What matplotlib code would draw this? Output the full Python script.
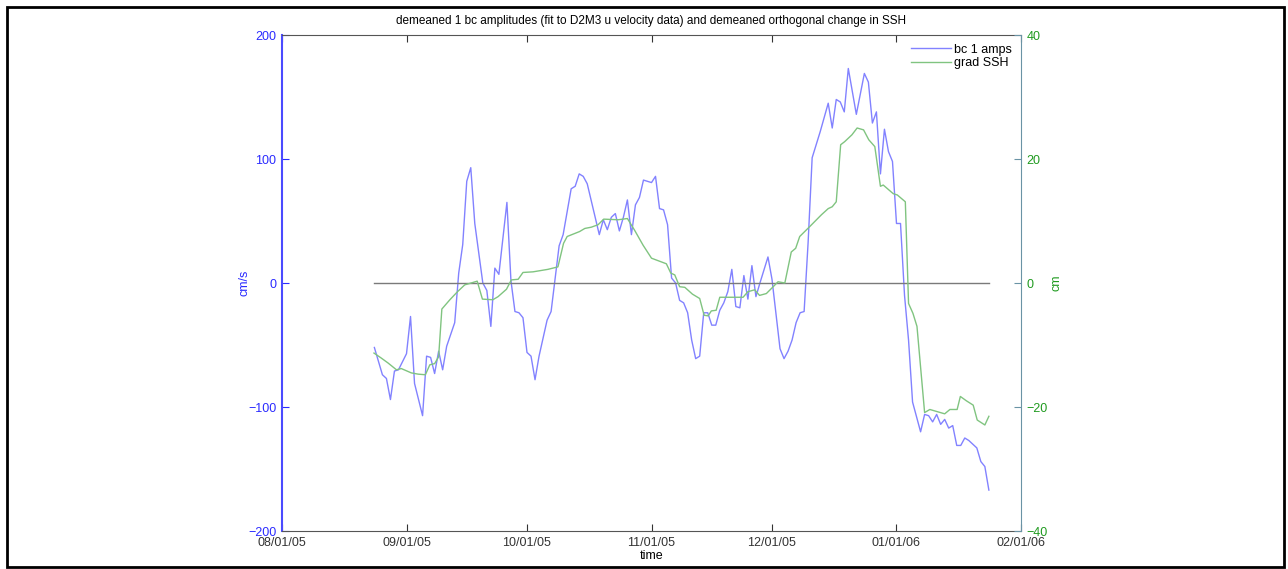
import datetime as dt
import matplotlib
matplotlib.use("Agg")
import matplotlib.pyplot as plt
import matplotlib.dates as mdates
from matplotlib.patches import Rectangle

plt.rcParams['font.family'] = ['Liberation Sans', 'DejaVu Sans']

t0 = dt.datetime(2005, 8, 1)

# bc 1 amplitudes (cm/s), day offsets from 08/01/05
amp_day = [23, 25, 26, 27, 28, 29, 31, 32, 33, 35, 36, 37, 38, 39, 40, 41, 43, 44, 45, 46,
           47, 48, 50, 51, 52, 53, 54, 56, 57, 58, 59, 60, 61, 62, 63, 64, 66, 67, 69, 70,
           72, 73, 74, 75, 76, 79, 80, 81, 82, 83, 84, 85, 86, 87, 88, 89, 90, 92, 93, 94,
           95, 96, 97, 98, 99, 100, 101, 102, 103, 104, 105, 106, 107, 108, 109, 110, 111, 112, 113, 114,
           115, 116, 117, 118, 119, 121, 122, 124, 125, 126, 127, 128, 129, 130, 131, 132, 134, 136, 137, 138,
           139, 140, 141, 143, 145, 146, 147, 148, 149, 150, 151, 152, 153, 154, 155, 156, 157, 159, 160, 161,
           162, 163, 164, 165, 166, 167, 168, 169, 170, 171, 173, 174, 175, 176]
amp_val = [-52, -74, -77, -94, -71, -70, -57, -27, -81, -107, -59, -60, -73, -55, -70, -51, -32, 8, 31, 82,
           93, 48, 0, -6, -35, 12, 7, 65, 2, -23, -24, -28, -56, -59, -78, -59, -30, -23, 30, 39,
           76, 78, 88, 86, 80, 39, 51, 43, 53, 56, 42, 53, 67, 39, 63, 69, 83, 81, 86, 60,
           59, 47, 4, 0, -14, -16, -24, -46, -61, -59, -24, -24, -34, -34, -22, -16, -7, 11, -19, -20,
           6, -13, 14, -11, 0, 21, 3, -53, -61, -55, -46, -32, -24, -23, 33, 101, 122, 145, 125, 148,
           146, 138, 173, 136, 169, 162, 129, 138, 88, 124, 106, 98, 48, 48, -10, -46, -96, -120, -106, -107,
           -112, -106, -114, -110, -117, -115, -131, -131, -125, -127, -133, -144, -148, -167]

# grad SSH (cm)
ssh_day = [22.9, 24.7, 26.4, 28.5, 29.7, 32.2, 33.9, 35.7, 36.8, 38.0, 39.0, 39.8, 41.8, 43.7, 45.5,
           47.1, 48.6, 49.9, 52.5, 53.8, 55.9, 57.1, 58.8, 60.0, 62.5, 66.2, 68.7, 70.1, 71.0, 74.1,
           75.4, 77.0, 78.7, 80.1, 83.7, 86.0, 87.8, 89.9, 92.0, 95.7, 96.8, 97.8, 99.0, 100.3, 102.2,
           104.0, 105.1, 106.1, 106.9, 108.1, 109.0, 111.9, 114.8, 116.0, 117.7, 118.9, 120.6, 122.3, 123.5,
           125.2, 126.8, 127.9, 128.9, 131.4, 134.3, 136.0, 137.0, 138.0, 139.1, 140.1, 141.9, 143.2, 144.8,
           146.1, 147.6, 149.0, 149.7, 152.2, 153.2, 155.2, 156.0, 157.1, 158.1, 160.0, 161.3, 165.0, 166.3,
           168.1, 168.9, 170.4, 172.1, 173.1, 175.0, 176.0]
ssh_val = [-11.3, -12.1, -12.9, -14.0, -13.8, -14.5, -14.7, -14.8, -13.2, -13.0, -11.9, -4.2, -2.7, -1.4, -0.3,
           0.0, 0.3, -2.6, -2.7, -2.2, -1.0, 0.5, 0.6, 1.7, 1.8, 2.2, 2.6, 6.4, 7.5, 8.3,
           8.8, 9.0, 9.4, 10.3, 10.2, 10.4, 8.5, 6.1, 4.0, 3.1, 1.6, 1.3, -0.6, -0.7, -1.8,
           -2.5, -5.2, -5.3, -4.5, -4.4, -2.3, -2.3, -2.3, -1.4, -1.1, -2.0, -1.7, -0.6, 0.2,
           0.0, 5.0, 5.6, 7.5, 9.1, 11.0, 12.0, 12.3, 13.1, 22.3, 22.8, 23.9, 25.0, 24.7,
           23.1, 22.0, 15.6, 15.8, 14.4, 14.2, 13.1, -3.3, -4.9, -7.0, -20.9, -20.4, -21.1, -20.4,
           -20.4, -18.3, -19.0, -19.7, -22.1, -22.9, -21.5]

amp_t = [t0 + dt.timedelta(days=d) for d in amp_day]
ssh_t = [t0 + dt.timedelta(days=d) for d in ssh_day]

blue = '#8282ff'
green = '#80c480'
blue_txt = '#2a2aff'
green_txt = '#1f9a1f'
right_spine = '#6a93a5'

fig = plt.figure(figsize=(12.88, 5.69), dpi=100)
fig.patches.append(Rectangle((7 / 1288, 2 / 569), 1277 / 1288, 560 / 569, transform=fig.transFigure,
                             fill=False, edgecolor='black', linewidth=2))

ax = fig.add_axes([282 / 1288, 38 / 569, 739 / 1288, 496 / 569])
ax2 = ax.twinx()

l1, = ax.plot(amp_t, amp_val, color=blue, lw=1, label='bc 1 amps')
ax.plot([amp_t[0], amp_t[-1]], [0, 0], color='#7a7a7a', lw=1)
l2, = ax2.plot(ssh_t, ssh_val, color=green, lw=1, label='grad SSH')

ax.set_xlim(dt.datetime(2005, 8, 1), dt.datetime(2006, 2, 1))
ax.set_ylim(-200, 200)
ax2.set_ylim(-40, 40)
ax.set_yticks([-200, -100, 0, 100, 200])
ax2.set_yticks([-40, -20, 0, 20, 40])
ax.xaxis.set_major_locator(mdates.MonthLocator())
ax.xaxis.set_major_formatter(mdates.DateFormatter('%m/%d/%y'))

ax.tick_params(axis='x', direction='in', length=5, top=True, labelsize=9, colors='#333333', pad=4)
ax.tick_params(axis='y', direction='in', length=5, labelsize=9, colors=blue_txt, pad=4)
ax2.tick_params(axis='y', direction='in', length=5, labelsize=9, labelcolor=green_txt,
                color=right_spine, pad=4)

for s in ['top', 'bottom']:
    ax.spines[s].set_color('#555555')
ax.spines['left'].set_color('#4b4bff')
ax.spines['left'].set_linewidth(1.5)
ax.spines['right'].set_visible(False)
for s in ['top', 'bottom', 'left']:
    ax2.spines[s].set_visible(False)
ax2.spines['right'].set_color(right_spine)

ax.set_title('demeaned 1 bc amplitudes (fit to D2M3 u velocity data) and demeaned orthogonal change in SSH',
             fontsize=8.5, pad=8)
ax.set_xlabel('time', fontsize=9, labelpad=1)
ax.set_ylabel('cm/s', fontsize=9, color=blue_txt, labelpad=-2)
ax2.set_ylabel('cm', fontsize=9, color=green_txt, labelpad=2)

ax2.legend([l1, l2], ['bc 1 amps', 'grad SSH'], loc='upper right', frameon=False, fontsize=9,
           handlelength=3.2, handletextpad=0.3, borderaxespad=0.3, labelspacing=0.1)

fig.savefig('out.png', dpi=100)
